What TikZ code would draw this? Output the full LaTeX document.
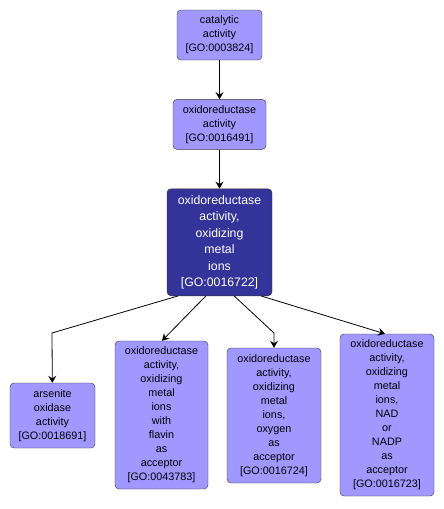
\documentclass[tikz,border=0pt]{standalone}
\usepackage{fontspec}
\setmainfont{Liberation Sans}
\usetikzlibrary{positioning}
\usetikzlibrary{arrows.meta}

\definecolor{golight}{RGB}{160,152,255}
\definecolor{godark}{RGB}{51,51,153}

\tikzset{
  goterm/.style={rectangle,rounded corners=4pt,draw=black!80,fill=golight,align=center,
    inner sep=0pt,font=\fontsize{10.8}{14}\selectfont},
  gofocus/.style={goterm,fill=godark,text=white,font=\fontsize{12.3}{16.5}\selectfont},
  isa/.style={-{Stealth[length=7pt,width=8pt,inset=2.5pt]},black,line width=0.8pt}
}

\begin{document}
\begin{tikzpicture}[x=1pt,y=-1pt,node distance=39pt]
\useasboundingbox (0,0) rectangle (444,509);

\node[goterm,minimum width=85pt,minimum height=50pt] (go3824) at (219.5,35) {catalytic\\activity\\{[GO:0003824]}};
\node[goterm,minimum width=93pt,minimum height=50pt,below=of go3824] (go16491) {oxidoreductase\\activity\\{[GO:0016491]}};
\node[gofocus,minimum width=105pt,minimum height=107pt,below=of go16491] (go16722) {oxidoreductase\\activity,\\oxidizing\\metal\\ions\\{[GO:0016722]}};

\node[goterm,minimum width=85pt,minimum height=65pt] (go18691) at (52.5,415.5) {arsenite\\oxidase\\activity\\{[GO:0018691]}};
\node[goterm,minimum width=93pt,minimum height=148pt] (go43783) at (161.5,415) {oxidoreductase\\activity,\\oxidizing\\metal\\ions\\with\\flavin\\as\\acceptor\\{[GO:0043783]}};
\node[goterm,minimum width=94pt,minimum height=135pt] (go16724) at (274,415.5) {oxidoreductase\\activity,\\oxidizing\\metal\\ions,\\oxygen\\as\\acceptor\\{[GO:0016724]}};
\node[goterm,minimum width=94pt,minimum height=162pt] (go16723) at (387,415) {oxidoreductase\\activity,\\oxidizing\\metal\\ions,\\NAD\\or\\NADP\\as\\acceptor\\{[GO:0016723]}};

\coordinate (bendA) at (52,333);
\coordinate (bendB) at (274,333);

\draw[isa] (go3824) -- (go16491);
\draw[isa] (go16491) -- (go16722);

\draw[isa] ([xshift=11pt]go16722.south west) -- (bendA) -- (go18691);
\draw[isa] ([xshift=39pt]go16722.south west) -- ([xshift=0.5pt]go43783.north);
\draw[isa] ([xshift=-38pt]go16722.south east) -- (bendB) -- (go16724);
\draw[isa] ([xshift=-11pt]go16722.south east) -- ([xshift=-2pt]go16723.north);

\end{tikzpicture}
\end{document}
